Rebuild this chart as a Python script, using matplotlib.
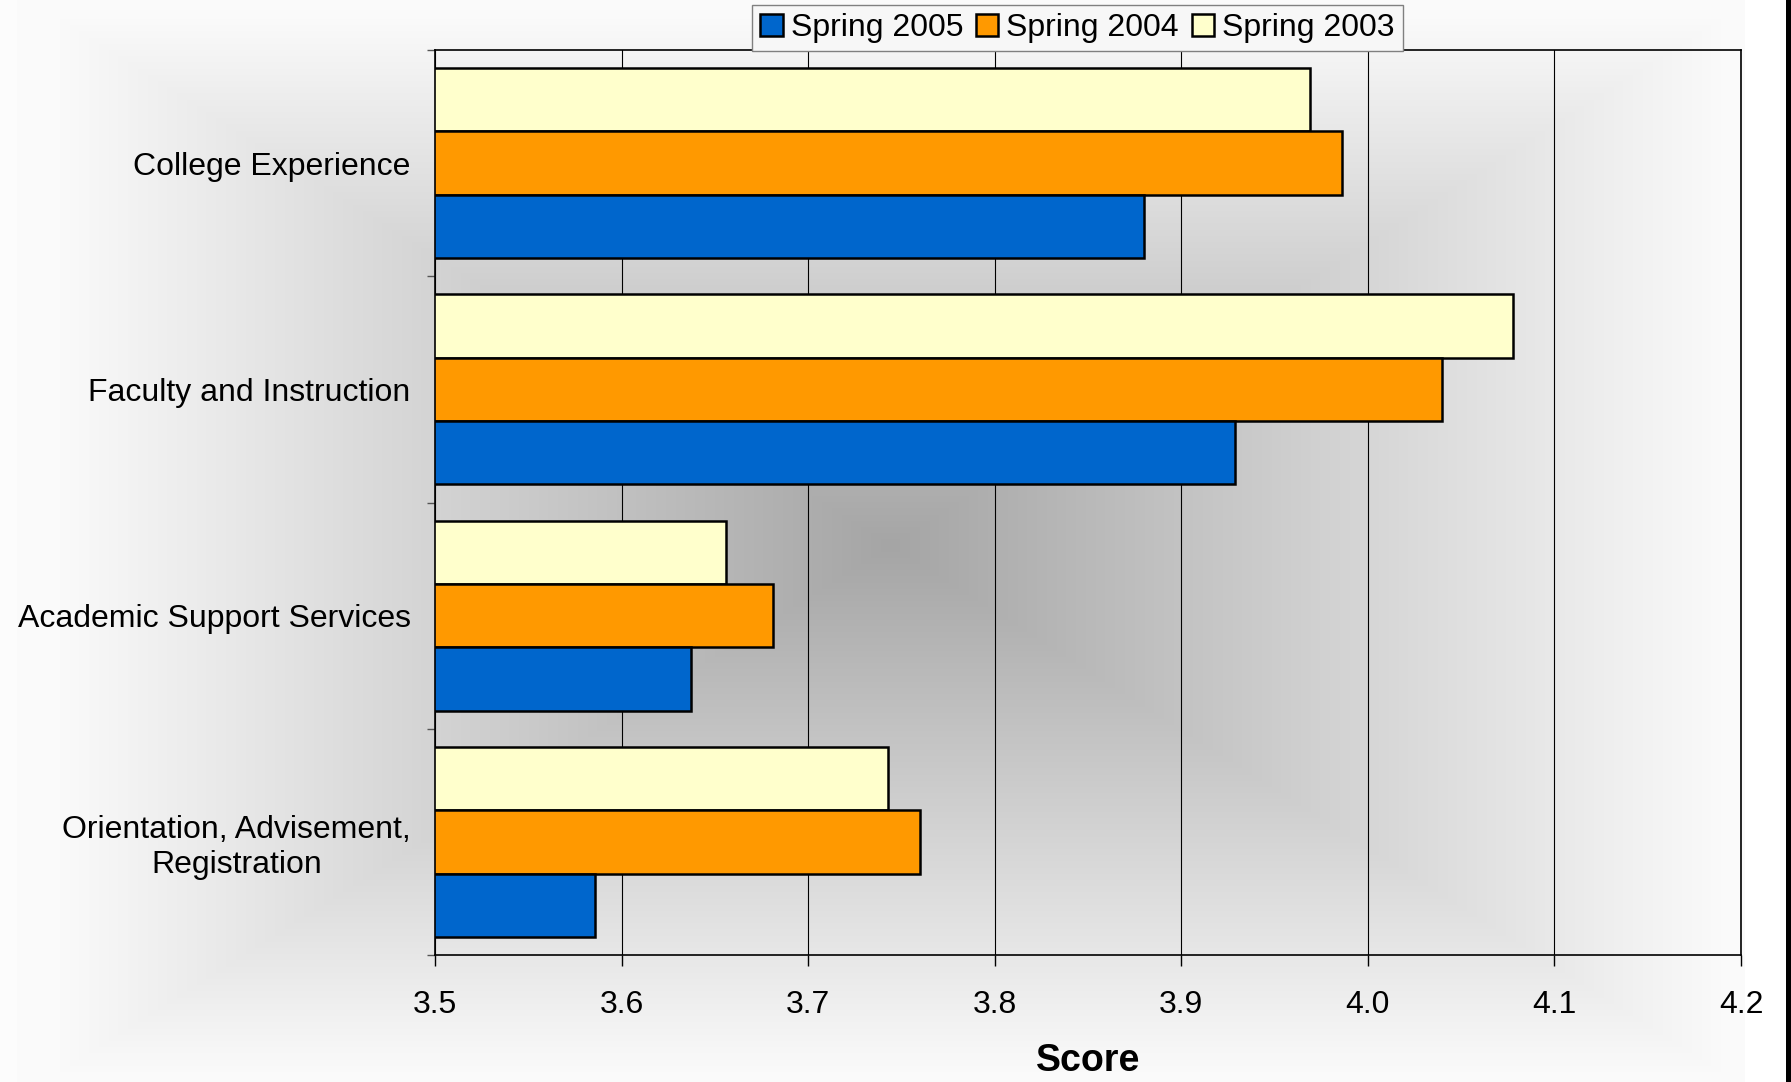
import numpy as np
import matplotlib.pyplot as plt

plt.rcParams['font.family'] = ['Liberation Sans', 'DejaVu Sans']

categories = ['College Experience', 'Faculty and Instruction',
              'Academic Support Services', 'Orientation, Advisement,\nRegistration']
spring_2005 = [3.880, 3.929, 3.637, 3.586]
spring_2004 = [3.986, 4.040, 3.681, 3.760]
spring_2003 = [3.969, 4.078, 3.656, 3.743]
x_ticks = [3.5, 3.6, 3.7, 3.8, 3.9, 4.0, 4.1, 4.2]

W, H = 1791, 1082
fig = plt.figure(figsize=(W / 100, H / 100), dpi=100)

# grey fill that lightens from the centre out to the edges (rectangular)
xx, yy = np.meshgrid(np.arange(W), np.arange(H))
t = np.maximum(np.abs(xx - 890) / 860, np.abs(yy - 545) / 545)
shade = np.clip(165 + 88 * t, 0, 250) / 255
shade[:, :17] = 0.99
shade[:, 1745:] = 1.0
shade[:, 1786:] = 0.0
fig.figimage(np.dstack([shade] * 3), 0, 0, origin='upper', zorder=0)

ax = fig.add_axes([435 / W, 1 - 955 / H, (1741 - 435) / W, (955 - 50) / H])
ax.set_facecolor('none')
ax.set_zorder(2)

y = np.arange(len(categories))
h = 0.28
b03 = ax.barh(y - h, spring_2003, h, color='#FFFFCC', edgecolor='black',
              linewidth=1.8, label='Spring 2003')
b04 = ax.barh(y, spring_2004, h, color='#FF9900', edgecolor='black',
              linewidth=1.8, label='Spring 2004')
b05 = ax.barh(y + h, spring_2005, h, color='#0066CC', edgecolor='black',
              linewidth=1.8, label='Spring 2005')

ax.set_xlim(3.5, 4.2)
ax.set_ylim(3.5, -0.5)
ax.set_xticks(x_ticks)
ax.set_xticklabels([f'{v:.1f}' for v in x_ticks])
ax.set_yticks(y)
ax.set_yticklabels(categories)
ax.set_yticks(np.arange(-0.5, len(categories)), minor=True)
ax.tick_params(axis='y', which='major', length=0, pad=17.5, labelsize=23)
ax.tick_params(axis='y', which='minor', length=6, width=1, color='#555555')
ax.tick_params(axis='x', length=8, width=1, pad=17, labelsize=23)
for lbl in ax.get_yticklabels():
    lbl.set_multialignment('center')

ax.xaxis.grid(True, color='black', linewidth=0.8)
ax.set_axisbelow(True)
for s in ax.spines.values():
    s.set_linewidth(1.2)

ax.set_xlabel('Score', fontsize=27, fontweight='bold', labelpad=17)

leg = ax.legend(handles=[b05, b04, b03], loc='center',
                bbox_to_anchor=(1077.5 / W, 1 - 28 / H),
                bbox_transform=fig.transFigure, ncol=3, fontsize=23,
                frameon=True, fancybox=False, edgecolor='#808080',
                facecolor='#f7f7f7', framealpha=1, handlelength=0.7,
                handleheight=0.7, handletextpad=0.25, columnspacing=0.4,
                borderpad=0.25, borderaxespad=0)

fig.savefig('out.png', dpi=100)
